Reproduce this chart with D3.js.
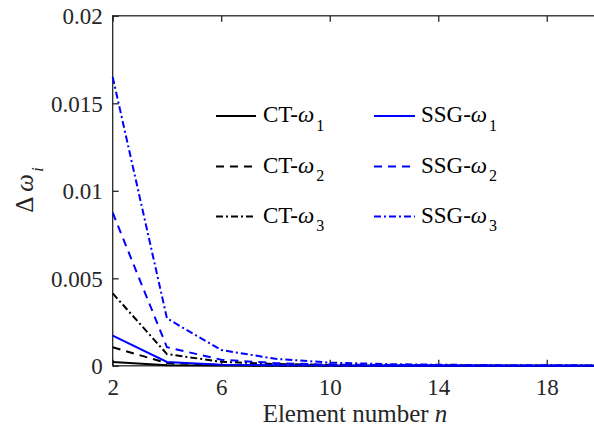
<!DOCTYPE html>
<html>
<head>
<meta charset="utf-8">
<script src="https://cdn.jsdelivr.net/npm/d3@7"></script>
<style>
  html, body { margin: 0; padding: 0; background: #fff; overflow: hidden; }
  svg { display: block; }
  text { font-family: "Liberation Serif", "Times New Roman", serif; }
</style>
</head>
<body>
<svg id="chart" width="594" height="427"></svg>
<script>
// ---- data ----
const elementNumbers = [2, 4, 6, 8, 10, 12, 14, 16, 18, 20];
const ctOmega1  = [0.00022, 0.00003, 0.00001, 0.000005, 0, 0, 0, 0, 0, 0];
const ctOmega2  = [0.00106, 0.00015, 0.00005, 0.00002, 0.00001, 0.000005, 0, 0, 0, 0];
const ctOmega3  = [0.00414, 0.00067, 0.00023, 0.0001, 0.00005, 0.00003, 0.00002, 0.00001, 0.00001, 0.000005];
const ssgOmega1 = [0.00172, 0.00022, 0.00006, 0.00003, 0.00001, 0.000005, 0, 0, 0, 0];
const ssgOmega2 = [0.00875, 0.00106, 0.00035, 0.00015, 0.00007, 0.00004, 0.00002, 0.00001, 0.00001, 0.000005];
const ssgOmega3 = [0.0165, 0.00271, 0.0009, 0.0004, 0.00018, 0.0001, 0.00006, 0.00004, 0.00003, 0.00002];
const xTicks = [2, 6, 10, 14, 18];
const yTicks = [0, 0.005, 0.01, 0.015, 0.02];
const yTickLabels = ["0", "0.005", "0.01", "0.015", "0.02"];
const seriesNames = ["CT", "CT", "CT", "SSG", "SSG", "SSG"];
const seriesSubs = ["1", "2", "3", "1", "2", "3"];
const xLabel = "Element number ";
const xLabelVar = "n";

// ---- styles ----
const series = [
  { values: ctOmega1,  color: "#000000", dash: null },
  { values: ctOmega2,  color: "#000000", dash: "8,6" },
  { values: ctOmega3,  color: "#000000", dash: "7,3,2,3" },
  { values: ssgOmega1, color: "#0000ff", dash: null },
  { values: ssgOmega2, color: "#0000ff", dash: "8,6" },
  { values: ssgOmega3, color: "#0000ff", dash: "7,3,2,3" }
];

const svg = d3.select("#chart");
const L = 112.7, R = 601, T = 15.8, B = 365.8;
const axisColor = "#262626";
const fontSize = 23;
const labelSize = 25;

const x = d3.scaleLinear().domain([2, 20]).range([L, R]);
const y = d3.scaleLinear().domain([0, 0.02]).range([B, T]);

// axes (box with inward ticks)
const tickLen = 6;
const gAx = svg.append("g");
gAx.append("rect").attr("x", L).attr("y", T).attr("width", R - L).attr("height", B - T)
  .attr("fill", "none").attr("stroke", axisColor).attr("stroke-width", 1.3);

const xAxisB = d3.axisBottom(x).tickValues(xTicks).tickSize(-tickLen).tickFormat(d3.format("d")).tickPadding(12);
const gxb = svg.append("g").attr("transform", `translate(0,${B})`).call(xAxisB);
const xAxisT = d3.axisTop(x).tickValues(xTicks).tickSize(-tickLen).tickFormat("");
const gxt = svg.append("g").attr("transform", `translate(0,${T})`).call(xAxisT);
const yAxisL = d3.axisLeft(y).tickValues(yTicks).tickSize(-tickLen).tickFormat((d, i) => yTickLabels[i]).tickPadding(10);
const gyl = svg.append("g").attr("transform", `translate(${L},0)`).call(yAxisL);
const yAxisR = d3.axisRight(y).tickValues(yTicks).tickSize(-tickLen).tickFormat("");
const gyr = svg.append("g").attr("transform", `translate(${R},0)`).call(yAxisR);

[gxb, gxt, gyl, gyr].forEach(g => {
  g.select(".domain").remove();
  g.selectAll(".tick line").attr("stroke", axisColor).attr("stroke-width", 1.3);
  g.selectAll(".tick text").attr("fill", axisColor).style("font-size", fontSize + "px")
    .style("font-family", '"Liberation Serif", serif');
});
gxb.selectAll(".tick text").attr("dy", null).attr("y", null)
  .attr("transform", "translate(0,29)");
gyl.selectAll(".tick text").attr("dy", "0.34em");

// lines
const line = d3.line().x((d, i) => x(elementNumbers[i])).y(d => y(d));
const gLines = svg.append("g");
series.forEach(s => {
  gLines.append("path").datum(s.values)
    .attr("d", line)
    .attr("fill", "none")
    .attr("stroke", s.color)
    .attr("stroke-width", 2)
    .attr("stroke-dasharray", s.dash);
});

// legend
const legCols = [
  { x1: 216, x2: 256, tx: 263 },
  { x1: 374, x2: 415, tx: 421 }
];
const legRowsLine = [116, 166.5, 216.5];
const legRowsText = [122.3, 172.5, 222.5];
const gLeg = svg.append("g");
series.forEach((s, i) => {
  const c = legCols[Math.floor(i / 3)];
  const r = i % 3;
  gLeg.append("line")
    .attr("x1", c.x1).attr("x2", c.x2)
    .attr("y1", legRowsLine[r]).attr("y2", legRowsLine[r])
    .attr("stroke", s.color).attr("stroke-width", 2)
    .attr("stroke-dasharray", s.dash);
  const t = gLeg.append("text")
    .attr("x", c.tx).attr("y", legRowsText[r])
    .attr("fill", "#000").style("font-size", fontSize + "px");
  t.append("tspan").text(seriesNames[i] + "-");
  t.append("tspan").style("font-style", "italic").text("ω");
  t.append("tspan").attr("dx", 2).attr("dy", 8.5).style("font-size", "16px").text(seriesSubs[i]);
});

// x label
const xl = svg.append("text")
  .attr("x", 355).attr("y", 422)
  .attr("text-anchor", "middle")
  .attr("fill", axisColor).style("font-size", labelSize + "px");
xl.append("tspan").text(xLabel);
xl.append("tspan").style("font-style", "italic").text(xLabelVar);

// y label
const yl = svg.append("text")
  .attr("transform", "translate(33,190) rotate(-90)")
  .attr("text-anchor", "middle")
  .attr("fill", axisColor).style("font-size", labelSize + "px");
yl.append("tspan").text("Δ ");
yl.append("tspan").style("font-style", "italic").text("ω");
yl.append("tspan").attr("dx", 2).attr("dy", 10).style("font-size", "17px").style("font-style", "italic").text("i");
</script>
</body>
</html>
